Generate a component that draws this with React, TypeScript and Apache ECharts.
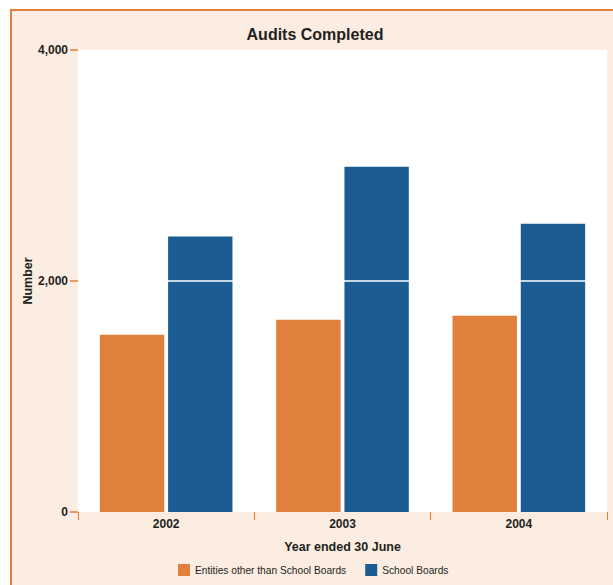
import React, { useEffect, useRef } from "react";
import * as echarts from "echarts";

const categories = ["2002", "2003", "2004"];
const entitiesValues = [1535, 1665, 1700];
const schoolBoardValues = [2385, 2990, 2495];
const yTicks = [0, 2000, 4000];

const ORANGE = "#E0803C";
const BLUE = "#1B5D92";
const PALE = "#FBEDE2";
const TEXT = "#231F20";
const FONT = "'Liberation Sans', Arial, Helvetica, sans-serif";

export default function App() {
  const ref = useRef<HTMLDivElement>(null);
  useEffect(() => {
    if (!ref.current) return;
    const chart = echarts.init(ref.current, undefined, { renderer: "svg" });
    chart.setOption({
      animation: false,
      title: {
        text: "Audits Completed",
        left: 310,
        top: 21,
        textAlign: "center",
        textStyle: { fontFamily: FONT, fontSize: 16, fontWeight: "bold", color: TEXT },
      },
      grid: {
        left: 78,
        right: 6,
        top: 50,
        bottom: 73,
        show: true,
        backgroundColor: "#ffffff",
        borderWidth: 0,
      },
      legend: {
        left: 173,
        top: 559,
        itemWidth: 12,
        itemHeight: 12,
        itemGap: 19,
        icon: "rect",
        textStyle: { fontFamily: FONT, fontSize: 10.2, color: TEXT },
        data: ["Entities other than School Boards", "School Boards"],
      },
      xAxis: {
        type: "category",
        data: categories,
        name: "Year ended 30 June",
        nameLocation: "middle",
        nameGap: 28,
        nameTextStyle: { fontFamily: FONT, fontSize: 12.5, fontWeight: "bold", color: TEXT },
        axisLine: { show: false },
        axisTick: { show: true, length: 8, lineStyle: { color: ORANGE, width: 1 } },
        axisLabel: { margin: 6, fontFamily: FONT, fontSize: 12, fontWeight: "bold", color: TEXT },
      },
      yAxis: {
        type: "value",
        min: yTicks[0],
        max: yTicks[yTicks.length - 1],
        interval: yTicks[1] - yTicks[0],
        name: "Number",
        nameLocation: "middle",
        nameGap: 44,
        nameMoveOverlap: false,
        nameTextStyle: { fontFamily: FONT, fontSize: 12.5, fontWeight: "bold", color: TEXT },
        axisLine: { show: false },
        axisTick: { show: true, length: 8, lineStyle: { color: ORANGE, width: 1.5 } },
        splitLine: { show: false },
        axisLabel: {
          margin: 10,
          fontFamily: FONT,
          fontSize: 12,
          fontWeight: "bold",
          color: TEXT,
          padding: [0, 0, 8, 0],
          formatter: (v: number) => v.toLocaleString("en-US"),
        },
      },
      series: [
        {
          name: "Entities other than School Boards",
          type: "bar",
          data: entitiesValues,
          barWidth: "36.5%",
          barGap: "6%",
          itemStyle: { color: ORANGE },
        },
        {
          name: "School Boards",
          type: "bar",
          data: schoolBoardValues,
          barWidth: "36.5%",
          barGap: "6%",
          itemStyle: { color: BLUE },
          markLine: {
            silent: true,
            symbol: "none",
            label: { show: false },
            lineStyle: { color: "#ffffff", type: "solid", width: 1.5 },
            data: [{ yAxis: 2000 }],
          },
        },
      ],
    });
    return () => chart.dispose();
  }, []);

  return (
    <div style={{ position: "absolute", left: 0, top: 0, width: 613, height: 585, background: "#ffffff", overflow: "hidden" }}>
      <div
        style={{
          position: "absolute",
          left: 10,
          top: 9,
          width: 620,
          height: 600,
          background: PALE,
          borderTop: `2px solid ${ORANGE}`,
          borderLeft: `2px solid ${ORANGE}`,
        }}
      />
      <div ref={ref} style={{ position: "absolute", left: 0, top: 0, width: 613, height: 585 }} />
    </div>
  );
}
